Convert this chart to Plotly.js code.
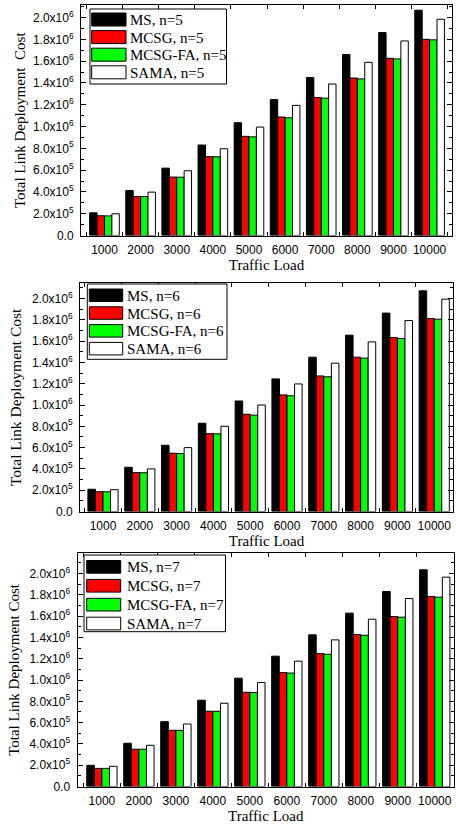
<!DOCTYPE html>
<html>
<head>
<meta charset="utf-8">
<script src="https://cdn.plot.ly/plotly-3.0.1.min.js"></script>
<style>
  html, body { margin: 0; padding: 0; background: #fff; }
  #chart { width: 456px; height: 825px; }
</style>
</head>
<body>
<div id="chart"></div>
<script>
// ---- data ----
const categories = ['1000', '2000', '3000', '4000', '5000', '6000', '7000', '8000', '9000', '10000'];
const seriesNames = ['MS', 'MCSG', 'MCSG-FA', 'SAMA'];
const nValues = [5, 6, 7];

const ms_n5     = [2.08e5, 4.13e5, 6.18e5, 8.30e5, 1.035e6, 1.247e6, 1.449e6, 1.660e6, 1.862e6, 2.067e6];
const mcsg_n5   = [1.81e5, 3.58e5, 5.36e5, 7.23e5, 9.10e5, 1.087e6, 1.265e6, 1.445e6, 1.626e6, 1.800e6];
const mcsgfa_n5 = [1.80e5, 3.57e5, 5.35e5, 7.22e5, 9.05e5, 1.080e6, 1.260e6, 1.437e6, 1.620e6, 1.795e6];
const sama_n5   = [1.99e5, 3.98e5, 5.94e5, 7.96e5, 9.95e5, 1.194e6, 1.390e6, 1.589e6, 1.785e6, 1.984e6];

const ms_n6     = [2.09e5, 4.15e5, 6.22e5, 8.29e5, 1.038e6, 1.245e6, 1.449e6, 1.656e6, 1.863e6, 2.072e6];
const mcsg_n6   = [1.86e5, 3.65e5, 5.47e5, 7.31e5, 9.13e5, 1.095e6, 1.273e6, 1.449e6, 1.633e6, 1.812e6];
const mcsgfa_n6 = [1.85e5, 3.64e5, 5.45e5, 7.29e5, 9.05e5, 1.087e6, 1.265e6, 1.440e6, 1.625e6, 1.806e6];
const sama_n6   = [2.05e5, 4.00e5, 6.00e5, 8.00e5, 1.000e6, 1.198e6, 1.393e6, 1.593e6, 1.793e6, 1.994e6];

const ms_n7     = [1.99e5, 4.06e5, 6.09e5, 8.10e5, 1.017e6, 1.224e6, 1.424e6, 1.628e6, 1.831e6, 2.035e6];
const mcsg_n7   = [1.70e5, 3.50e5, 5.28e5, 7.07e5, 8.85e5, 1.070e6, 1.248e6, 1.427e6, 1.596e6, 1.784e6];
const mcsgfa_n7 = [1.70e5, 3.50e5, 5.27e5, 7.06e5, 8.83e5, 1.065e6, 1.242e6, 1.420e6, 1.590e6, 1.778e6];
const sama_n7   = [1.90e5, 3.87e5, 5.87e5, 7.82e5, 9.76e5, 1.177e6, 1.377e6, 1.571e6, 1.765e6, 1.966e6];

const yTickVals = [0, 2e5, 4e5, 6e5, 8e5, 1e6, 1.2e6, 1.4e6, 1.6e6, 1.8e6, 2e6];
const yTickText = ['0.0', '2.0x10<sup>5</sup>', '4.0x10<sup>5</sup>', '6.0x10<sup>5</sup>', '8.0x10<sup>5</sup>',
                   '1.0x10<sup>6</sup>', '1.2x10<sup>6</sup>', '1.4x10<sup>6</sup>', '1.6x10<sup>6</sup>',
                   '1.8x10<sup>6</sup>', '2.0x10<sup>6</sup>'];
const xTitle = 'Traffic Load';
const yTitles = ['Total Link Deployment\u00a0 Cost', 'Total Link Deployment Cost', 'Total Link Deployment Cost'];

// ---- styling ----
const panelData = [
  [ms_n5, mcsg_n5, mcsgfa_n5, sama_n5],
  [ms_n6, mcsg_n6, mcsgfa_n6, sama_n6],
  [ms_n7, mcsg_n7, mcsgfa_n7, sama_n7]
];
const colors = ['#000000', '#ff0000', '#00ff00', '#ffffff'];
const W = 456, H = 825;
// pixel geometry of each panel: [left, right, top, bottom]
const geom = [
  [81, 452, 5, 235.5],
  [80, 453, 283.3, 511.5],
  [77.5, 454, 553.3, 786.5]
];
const xRanges = [[-0.65, 9.62], [-0.625, 9.51], [-0.66, 9.52]];
const yRanges = [[0, 2.115e6], [0, 2.143e6], [0, 2.19e6]];
const yTitleSize = [15, 15.5, 15];
const yTitleStandoff = [3, 6, 6];
// legend box geometry (pixels): box [l, r, t, b], swatch [l, r], first swatch top, swatch height, row step, text x
const legendGeom = [
  {box: [90, 226.5, 9, 84], sw: [91.7, 126], top: 13, h: 13, step: 17.6, tx: 128},
  {box: [87.3, 227, 284, 359.3], sw: [89.3, 122.7], top: 289, h: 12.5, step: 17.8, tx: 124.5},
  {box: [84, 225.5, 555, 631.7], sw: [86.7, 120.7], top: 560.5, h: 12.7, step: 18.9, tx: 124.5}
];

const sansFont = 'Liberation Sans, Arial, sans-serif';
const serifFont = 'Liberation Serif, Times New Roman, serif';
const px = v => v / W;
const py = v => 1 - v / H;

const traces = [];
const shapes = [];
const annotations = [];
const layout = {
  width: W, height: H,
  margin: {l: 0, r: 0, t: 0, b: 0, pad: 0},
  paper_bgcolor: '#ffffff',
  plot_bgcolor: '#ffffff',
  barmode: 'group',
  bargap: 0.18,
  bargroupgap: 0,
  showlegend: false,
  font: {family: sansFont, size: 12, color: '#000'}
};

for (let p = 0; p < 3; p++) {
  const sfx = p === 0 ? '' : String(p + 1);
  const [l, r, t, b] = geom[p];
  for (let s = 0; s < 4; s++) {
    traces.push({
      type: 'bar',
      x: categories,
      y: panelData[p][s],
      name: seriesNames[s] + ', n=' + nValues[p],
      xaxis: 'x' + sfx,
      yaxis: 'y' + sfx,
      marker: {color: colors[s], line: {color: '#000000', width: 1}}
    });
  }
  layout['xaxis' + sfx] = {
    domain: [l / W, r / W],
    anchor: 'y' + sfx,
    type: 'category',
    range: xRanges[p],
    showline: true, linecolor: '#000', linewidth: 1, mirror: 'allticks',
    ticks: 'inside', ticklen: 4, tickwidth: 1, tickcolor: '#000',
    tickson: 'boundaries',
    tickangle: 0,
    showgrid: false, zeroline: false,
    tickfont: {family: sansFont, size: 12, color: '#000'},
    ticklabelstandoff: 3,
    title: {text: xTitle, font: {family: serifFont, size: 15, color: '#000'}, standoff: 2},
    fixedrange: true
  };
  layout['yaxis' + sfx] = {
    domain: [1 - b / H, 1 - t / H],
    anchor: 'x' + sfx,
    range: yRanges[p],
    tickmode: 'array', tickvals: yTickVals, ticktext: yTickText,
    showline: true, linecolor: '#000', linewidth: 1, mirror: 'allticks',
    ticks: 'inside', ticklen: 5, tickwidth: 1, tickcolor: '#000',
    minor: {tickmode: 'linear', tick0: 0, dtick: 1e5, ticks: 'inside', ticklen: 3, tickcolor: '#000', showgrid: false},
    showgrid: false, zeroline: false,
    tickfont: {family: sansFont, size: 12, color: '#000'},
    ticklabelstandoff: 4,
    title: {text: yTitles[p], font: {family: serifFont, size: yTitleSize[p], color: '#000'}, standoff: yTitleStandoff[p]},
    fixedrange: true
  };

  // legend box drawn with the series names and colours
  const g = legendGeom[p];
  shapes.push({
    type: 'rect', xref: 'paper', yref: 'paper',
    x0: px(g.box[0]), x1: px(g.box[1]), y0: py(g.box[3]), y1: py(g.box[2]),
    line: {color: '#000', width: 1}, fillcolor: '#ffffff', layer: 'above'
  });
  for (let s = 0; s < 4; s++) {
    const top = g.top + s * g.step;
    shapes.push({
      type: 'rect', xref: 'paper', yref: 'paper',
      x0: px(g.sw[0]), x1: px(g.sw[1]), y0: py(top + g.h), y1: py(top),
      line: {color: '#000', width: 1}, fillcolor: colors[s], layer: 'above'
    });
    annotations.push({
      xref: 'paper', yref: 'paper',
      x: px(g.tx), y: py(top + g.h / 2 + 0.5),
      xanchor: 'left', yanchor: 'middle',
      text: seriesNames[s] + ', n=' + nValues[p],
      showarrow: false,
      font: {family: serifFont, size: 15, color: '#000'}
    });
  }
}
layout.shapes = shapes;
layout.annotations = annotations;

Plotly.newPlot('chart', traces, layout, {displayModeBar: false, staticPlot: true});
</script>
</body>
</html>
